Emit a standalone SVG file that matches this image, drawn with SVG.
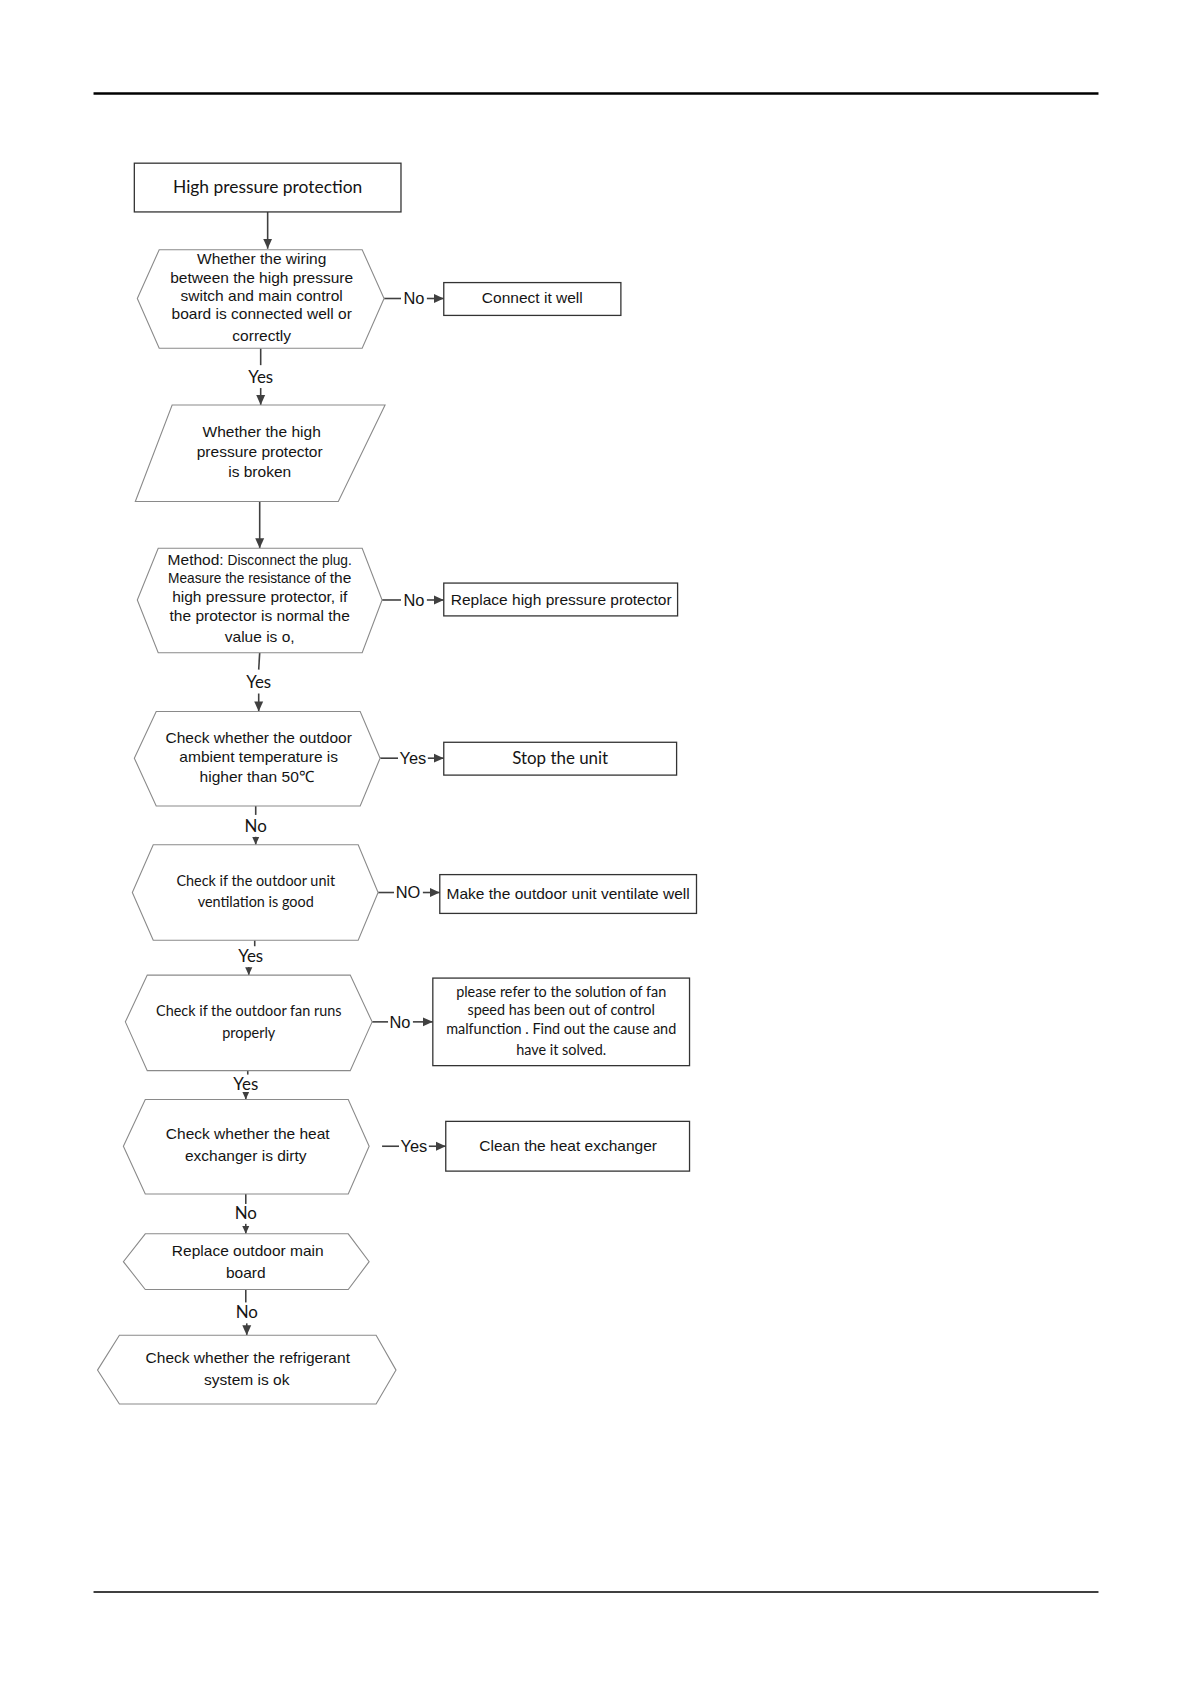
<svg xmlns="http://www.w3.org/2000/svg" width="1190" height="1684" viewBox="0 0 1190 1684">
<defs>
<marker id="ah" markerUnits="userSpaceOnUse" markerWidth="10" markerHeight="10" viewBox="0 0 10 10" refX="10" refY="5" orient="auto">
<path d="M0,0.5 L10,5 L0,9.5 Z" fill="#404040"/>
</marker>
<marker id="ahs" markerUnits="userSpaceOnUse" markerWidth="8" markerHeight="8" viewBox="0 0 10 10" refX="10" refY="5" orient="auto">
<path d="M0,0.5 L10,5 L0,9.5 Z" fill="#404040"/>
</marker>
<style>
.hex{fill:#fff;stroke:#8a8a8a;stroke-width:1.1}
.box{fill:#fff;stroke:#333;stroke-width:1.3}
.a{font-family:"Liberation Sans",Arial,sans-serif;font-size:15.6px;fill:#141414;text-anchor:middle}
.c{font-family:Lato,"Open Sans",sans-serif;font-size:14.5px;fill:#141414;text-anchor:middle}
.ln{stroke:#404040;stroke-width:1.6;fill:none}
.lbl{font-family:"Liberation Sans",Arial,sans-serif;font-size:16.5px;fill:#141414;text-anchor:middle}
.lblc{font-family:Lato,"Open Sans",sans-serif;font-size:17px;fill:#141414;text-anchor:middle}
</style>
</defs>
<rect width="1190" height="1684" fill="#fff"/>
<g transform="scale(0.995)">
<line x1="94" y1="94" x2="1104" y2="94" stroke="#000" stroke-width="2.4"/>
<line x1="94" y1="1600" x2="1104" y2="1600" stroke="#000" stroke-width="1.3"/>

<g id="connectors">
<line class="ln" x1="269" y1="213" x2="269" y2="250" marker-end="url(#ah)"/>
<line class="ln" x1="386" y1="300" x2="403" y2="300"/>
<text class="lbl" x="416" y="306">No</text>
<line class="ln" x1="429" y1="300" x2="446" y2="300" marker-end="url(#ah)"/>
<line class="ln" x1="262" y1="350" x2="262" y2="367"/>
<text class="lblc" x="262" y="385">Yes</text>
<line class="ln" x1="262" y1="390" x2="262" y2="407" marker-end="url(#ah)"/>
<line class="ln" x1="261" y1="504" x2="261" y2="551" marker-end="url(#ah)"/>
<line class="ln" x1="384" y1="603" x2="403" y2="603"/>
<text class="lbl" x="416" y="609">No</text>
<line class="ln" x1="429" y1="603" x2="446" y2="603" marker-end="url(#ah)"/>
<line class="ln" x1="261" y1="656" x2="260" y2="673"/>
<text class="lblc" x="260" y="691">Yes</text>
<line class="ln" x1="260" y1="697" x2="260" y2="715" marker-end="url(#ah)"/>
<line class="ln" x1="382" y1="762" x2="400" y2="762"/>
<text class="lbl" x="415" y="768">Yes</text>
<line class="ln" x1="430" y1="762" x2="446" y2="762" marker-end="url(#ah)"/>
<line class="ln" x1="257" y1="810" x2="257" y2="819"/>
<text class="lblc" x="257" y="836">No</text>
<line class="ln" x1="257" y1="841" x2="257" y2="849" marker-end="url(#ahs)"/>
<line class="ln" x1="380" y1="897" x2="396" y2="897"/>
<text class="lbl" x="410" y="903">NO</text>
<line class="ln" x1="425" y1="897" x2="442" y2="897" marker-end="url(#ah)"/>
<line class="ln" x1="256" y1="945" x2="256" y2="951"/>
<text class="lblc" x="252" y="967">Yes</text>
<line class="ln" x1="250" y1="972" x2="250" y2="980" marker-end="url(#ahs)"/>
<line class="ln" x1="374" y1="1027" x2="390" y2="1027"/>
<text class="lbl" x="402" y="1033">No</text>
<line class="ln" x1="415" y1="1027" x2="435" y2="1027" marker-end="url(#ah)"/>
<line class="ln" x1="249" y1="1076" x2="249" y2="1080"/>
<text class="lblc" x="247" y="1095">Yes</text>
<line class="ln" x1="247" y1="1100" x2="247" y2="1105" marker-end="url(#ahs)"/>
<line class="ln" x1="384" y1="1152" x2="401" y2="1152"/>
<text class="lbl" x="416" y="1158">Yes</text>
<line class="ln" x1="431" y1="1152" x2="448" y2="1152" marker-end="url(#ah)"/>
<line class="ln" x1="247" y1="1200" x2="247" y2="1210"/>
<text class="lblc" x="247" y="1225">No</text>
<line class="ln" x1="247" y1="1230" x2="247" y2="1240" marker-end="url(#ahs)"/>
<line class="ln" x1="247" y1="1296" x2="247" y2="1309"/>
<text class="lblc" x="248" y="1325">No</text>
<line class="ln" x1="248" y1="1330" x2="248" y2="1342" marker-end="url(#ah)"/>
</g>

<g id="n1">
<rect class="box" x="135" y="164" width="268" height="49"/>
<text class="c" x="269" y="194" style="font-size:17.5px">High pressure protection</text>
</g>
<g id="n2">
<polygon class="hex" points="160,251 364,251 386,300 364,350 160,350 138,300"/>
<text class="a" x="263" y="265">Whether the wiring</text>
<text class="a" x="263" y="284">between the high pressure</text>
<text class="a" x="263" y="303">switch and main control</text>
<text class="a" x="263" y="321">board is connected well or</text>
<text class="a" x="263" y="343">correctly</text>
</g>
<g id="n3">
<rect class="box" x="446" y="284" width="178" height="33"/>
<text class="a" x="535" y="305">Connect it well</text>
</g>
<g id="n4">
<polygon class="hex" points="173,407 387,407 340,504 136,504"/>
<text class="a" x="263" y="439">Whether the high</text>
<text class="a" x="261" y="459">pressure protector</text>
<text class="a" x="261" y="479">is broken</text>
</g>
<g id="n5">
<polygon class="hex" points="159,551 364,551 384,603 364,656 159,656 138,603"/>
<text class="a" x="261" y="568"><tspan>Method:</tspan><tspan style="font-size:13.8px"> Disconnect the plug.</tspan></text>
<text class="a" x="261" y="586"><tspan style="font-size:13.8px">Measure the resistance of </tspan><tspan>the</tspan></text>
<text class="a" x="261" y="605">high pressure protector, if</text>
<text class="a" x="261" y="624">the protector is normal the</text>
<text class="a" x="261" y="645">value is o,</text>
</g>
<g id="n6">
<rect class="box" x="446" y="586" width="235" height="33"/>
<text class="a" x="564" y="608">Replace high pressure protector</text>
</g>
<g id="n7">
<polygon class="hex" points="157,715 362,715 382,762 362,810 157,810 135,762"/>
<text class="a" x="260" y="747">Check whether the outdoor</text>
<text class="a" x="260" y="766">ambient temperature is</text>
<text class="a" x="258" y="786">higher than 50℃</text>
</g>
<g id="n8">
<rect class="box" x="446" y="746" width="234" height="33"/>
<text class="c" x="563" y="768" style="font-size:17px">Stop the unit</text>
</g>
<g id="n9">
<polygon class="hex" points="154,849 360,849 380,897 360,945 154,945 133,897"/>
<text class="c" x="257" y="890">Check if the outdoor unit</text>
<text class="c" x="257" y="912">ventilation is good</text>
</g>
<g id="n10">
<rect class="box" x="442" y="879" width="258" height="39"/>
<text class="a" x="571" y="904">Make the outdoor unit ventilate well</text>
</g>
<g id="n11">
<polygon class="hex" points="148,980 352,980 374,1027 352,1076 148,1076 126,1027"/>
<text class="c" x="250" y="1021">Check if the outdoor fan runs</text>
<text class="c" x="250" y="1043">properly</text>
</g>
<g id="n12">
<rect class="box" x="435" y="983" width="258" height="88"/>
<text class="c" x="564" y="1002">please refer to the solution of fan</text>
<text class="c" x="564" y="1020">speed has been out of control</text>
<text class="c" x="564" y="1039">malfunction . Find out the cause and</text>
<text class="c" x="564" y="1060">have it solved.</text>
</g>
<g id="n13">
<polygon class="hex" points="146,1105 350,1105 371,1152 350,1200 146,1200 124,1152"/>
<text class="a" x="249" y="1145">Check whether the heat</text>
<text class="a" x="247" y="1167">exchanger is dirty</text>
</g>
<g id="n14">
<rect class="box" x="448" y="1127" width="245" height="50"/>
<text class="a" x="571" y="1157">Clean the heat exchanger</text>
</g>
<g id="n15">
<polygon class="hex" points="146,1240 350,1240 371,1268 350,1296 146,1296 124,1268"/>
<text class="a" x="249" y="1262">Replace outdoor main</text>
<text class="a" x="247" y="1284">board</text>
</g>
<g id="n16">
<polygon class="hex" points="120,1342 378,1342 398,1377 378,1411 120,1411 98,1377"/>
<text class="a" x="249" y="1370">Check whether the refrigerant</text>
<text class="a" x="248" y="1392">system is ok</text>
</g>
</g>
</svg>
